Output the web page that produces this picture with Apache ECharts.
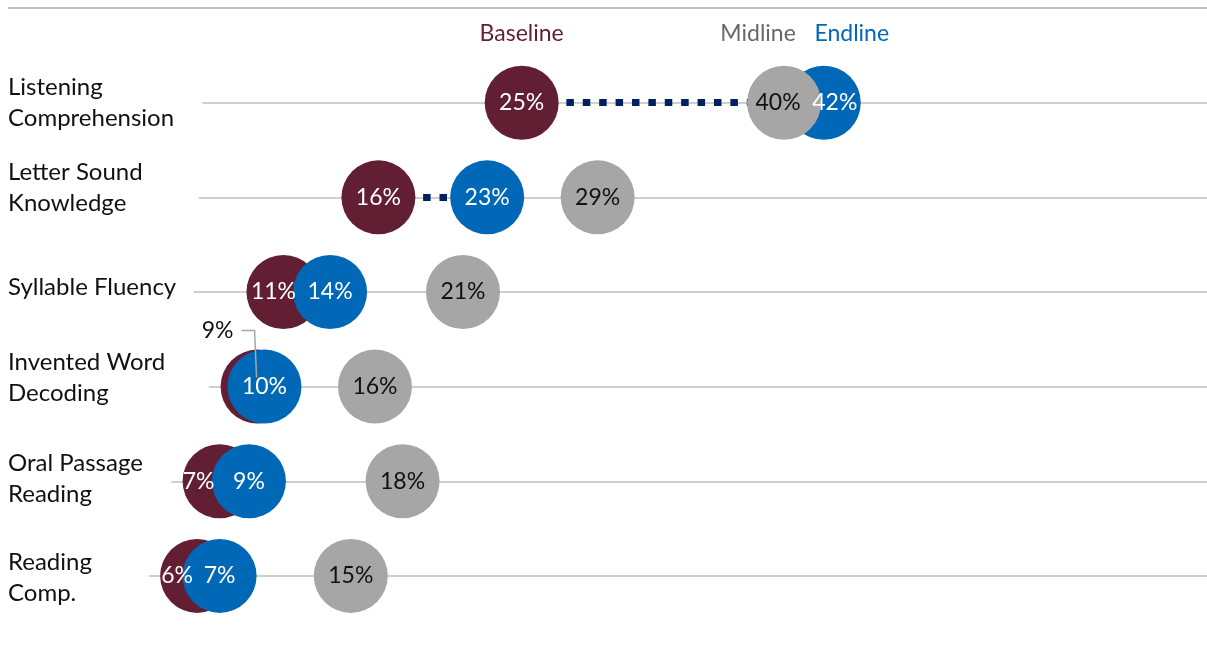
<!DOCTYPE html>
<html><head><meta charset="utf-8">
<script src="https://cdn.jsdelivr.net/npm/echarts@6/dist/echarts.min.js"></script>
<style>html,body{margin:0;padding:0;background:#fff}#c{width:1207px;height:670px}</style>
</head><body><div id="c"></div>
<script>
// ---- data ----
const categories = ['Listening\nComprehension', 'Letter Sound\nKnowledge', 'Syllable Fluency', 'Invented Word\nDecoding', 'Oral Passage\nReading', 'Reading\nComp.'];
const baseline = [24.7, 16.4, 10.9, 9.4, 7.2, 5.9];
const midline  = [39.9, 29.1, 21.3, 16.2, 17.8, 14.8];
const endline  = [42.2, 22.7, 13.6, 9.8, 8.9, 7.2];
const gridStart = [6.2, 6.0, 5.7, 6.6, 4.4, 3.1];
const seriesNames = ['Baseline', 'Midline', 'Endline'];
const xMin = 0, xMax = 64.4;

// ---- style ----
const FONT = 'Lato, "Open Sans", sans-serif';
const C_BASE = '#621E32', C_MID = '#A6A6A6', C_END = '#0068B6', C_LINK = '#002060', C_GRID = '#BFBFBF';
const labelNudge = [0, -10, -5, -9, -2, 2];   // vertical shift of the category labels (px)
const SYM = 74;

const pts = arr => arr.map((v, i) => [v, i]);
const pct = p => Math.round(p.value[0]) + '%';

const chart = echarts.init(document.getElementById('c'), null, {renderer: 'canvas'});

function circleSeries(name, arr, color, z, legendDx) {
  return {
    name, type: 'scatter', data: pts(arr), symbol: 'circle', symbolSize: SYM, z,
    itemStyle: {color, opacity: 1}, silent: true, emphasis: {disabled: true},
    label: {show: false},
    markPoint: {
      silent: true, symbol: 'circle', symbolSize: 0, z: 6,
      label: {show: true, position: 'inside', offset: [legendDx, -69], formatter: name,
              color: name === 'Midline' ? '#6B6767' : color, fontFamily: FONT, fontSize: 23},
      data: [{coord: [arr[0], 0]}]
    }
  };
}

function labelSeries(arr, color, special) {
  return {
    type: 'scatter', data: pts(arr).map((d, i) => {
      const item = {value: d};
      if (special && special[i]) item.label = special[i];
      return item;
    }),
    symbolSize: 1, itemStyle: {color: 'rgba(0,0,0,0)', opacity: 1}, z: 10, silent: true, emphasis: {disabled: true},
    label: {show: true, position: 'inside', formatter: pct, color, fontFamily: FONT, fontSize: 23}
  };
}

function catLabel(value, idx) {
  const lines = value.split('\n').map(s => '{t|' + s + '}');
  const n = labelNudge[idx];
  if (n < 0) lines.push('{s' + (-2 * n) + '| }');
  if (n > 0) lines.unshift('{s' + (2 * n) + '| }');
  return lines.join('\n');
}
const rich = {t: {fontFamily: FONT, fontSize: 24, lineHeight: 31, color: '#111', align: 'left'}};
labelNudge.forEach(n => { const h = Math.abs(2 * n); if (h) rich['s' + h] = {fontSize: 1, lineHeight: h, height: h}; });

const option = {
  animation: false,
  backgroundColor: '#fff',
  grid: {left: 95.3, right: 0, top: 55.4, bottom: 46.8, containLabel: false, outerBoundsMode: 'none'},
  xAxis: {type: 'value', min: xMin, max: xMax, show: false},
  yAxis: {
    type: 'category', inverse: true, data: categories,
    axisLine: {show: false}, axisTick: {show: false}, splitLine: {show: false},
    axisLabel: {align: 'left', margin: 87.3, color: '#111', fontFamily: FONT, fontSize: 24, lineHeight: 31,
                formatter: catLabel, rich}
  },
  series: [
    { // row rules
      type: 'scatter', data: pts(gridStart), symbolSize: 0, z: 1, silent: true,
      markLine: {silent: true, z: 1, symbol: ['none', 'none'], label: {show: false},
        lineStyle: {color: C_GRID, width: 1.5, type: 'solid'},
        data: gridStart.map((s, i) => [{coord: [s, i]}, {coord: [xMax, i]}])}
    },
    { // baseline -> endline connectors
      type: 'scatter', data: pts(baseline), symbolSize: 0, z: 2, silent: true,
      markLine: {silent: true, z: 2, symbol: ['none', 'none'], label: {show: false},
        lineStyle: {color: C_LINK, width: 7, type: [7.5, 8.9], dashOffset: 4.5, cap: 'butt'},
        data: baseline.map((b, i) => [{coord: [b, i]}, {coord: [endline[i], i]}])}
    },
    circleSeries('Baseline', baseline, C_BASE, 3, 0),
    circleSeries('Endline', endline, C_END, 4, 28),
    circleSeries('Midline', midline, C_MID, 5, -26),
    labelSeries(baseline, '#fff', {
      2: {offset: [-10, 0]}, 3: {offset: [-40, -56], color: '#111'}, 4: {offset: [-21, 0]}, 5: {offset: [-20, 0]}
    }),
    labelSeries(endline, '#fff', {0: {offset: [11, 0]}}),
    labelSeries(midline, '#111', {0: {offset: [-6, 0]}})
  ]
};
chart.setOption(option);

// leader line for the outside "9%" label and the top rule
const p = chart.convertToPixel({gridIndex: 0}, [baseline[3], 3]);
chart.setOption({
  graphic: [
    {type: 'line', silent: true, z: 0, shape: {x1: 8, y1: 8, x2: 1207, y2: 8}, style: {stroke: C_GRID, lineWidth: 2}},
    {type: 'polyline', silent: true, z: 100,
     shape: {points: [[p[0] - 16, p[1] - 56], [p[0] - 3, p[1] - 56], [p[0] - 1, p[1] - 9]]},
     style: {stroke: C_MID, lineWidth: 1.5, fill: null}}
  ]
});
</script></body></html>
